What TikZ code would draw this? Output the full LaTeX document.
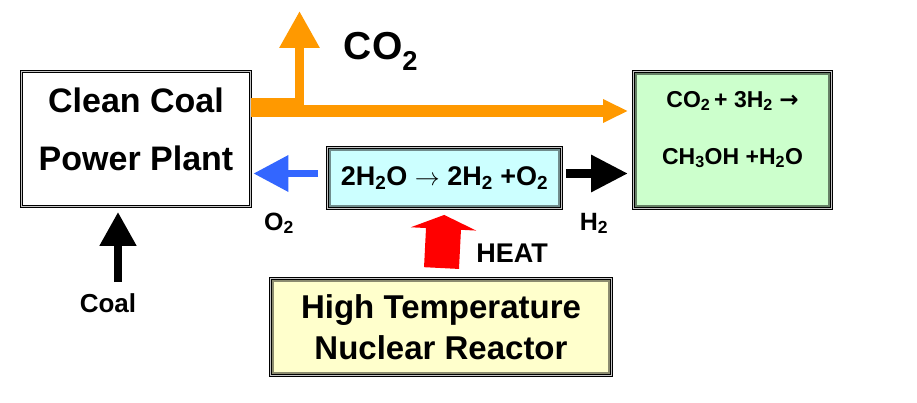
\documentclass[tikz,border=0pt]{standalone}
\usepackage{fontspec}
\setmainfont{Liberation Sans}
\newfontfamily\arrowfont{DejaVu Sans}
\usetikzlibrary{arrows.meta}
\definecolor{gasorange}{HTML}{FF9900}
\definecolor{oxyblue}{HTML}{3366FF}
\definecolor{heatred}{HTML}{FF0000}
\definecolor{splitfill}{HTML}{CCFFFF}
\definecolor{methfill}{HTML}{CCFFCC}
\definecolor{reactfill}{HTML}{FFFFCC}
\newcommand{\chemsub}[1]{\textsubscript{#1}}

\begin{document}
\begin{tikzpicture}[x=1pt, y=-1pt, font=\bfseries,
  box/.style = {draw, line width=0.9pt, double=gray!45, double distance=1.3pt,
    fill=#1, inner sep=0pt, align=center},
  tint/.style = {path picture={\draw[line width=7pt, #1]
    (path picture bounding box.south west) rectangle (path picture bounding box.north east);}},
  flow/.style = {line width=#1, -{Triangle[length=30pt, width=35pt]}}]
\useasboundingbox (0,0) rectangle (917,403);

\node[box=white, minimum width=229pt, minimum height=135pt, text depth=20pt,
  font=\bfseries\fontsize{34}{58}\selectfont] (plant) at (136,139) {Clean Coal\\Power Plant};
\node[box=splitfill, tint=splitfill!55!black, minimum width=234pt, minimum height=61pt,
  font=\bfseries\fontsize{27}{32}\selectfont] (split) at (444.5,178)
  {2H\chemsub{2}O $\rightarrow$ 2H\chemsub{2} +O\chemsub{2}};
\node[box=methfill, tint=methfill!50!black, minimum width=198pt, minimum height=137pt,
  text depth=25pt, font=\bfseries\fontsize{23}{57}\selectfont] (meth) at (732.5,140)
  {CO\chemsub{2}\,+ 3H\chemsub{2} {\arrowfont →}\\CH\chemsub{3}OH +H\chemsub{2}O};
\node[box=reactfill, tint=reactfill!55!black, minimum width=341pt, minimum height=97pt,
  font=\bfseries\fontsize{33}{41}\selectfont] (reactor) at (441,327)
  {High Temperature\\Nuclear Reactor};

% CO2 out of the plant
\coordinate (branch) at (299.5,117);
\coordinate (stack) at (299.5,11);
\draw[gasorange, line width=19pt] (plant.east |- 0,107.5) -- (branch |- 0,107.5);
\draw[gasorange, line width=12pt, -{Triangle[length=25pt, width=22pt]}, shorten >=5pt]
  (branch |- 0,111) -- (meth.west |- 0,111);
\draw[gasorange, line width=9pt, -{Triangle[length=37pt, width=38pt]}] (branch) -- (stack);

% products of the splitting
\draw[oxyblue, line width=7pt, -{Triangle[length=35pt, width=35pt]},
  shorten <=9pt, shorten >=2.5pt] (split.west |- 0,173.5) -- (plant.east |- 0,173.5);
\draw[line width=9pt, -{Triangle[length=37pt, width=35pt]},
  shorten <=4pt, shorten >=5pt] (split.east |- 0,173.5) -- (meth.west |- 0,173.5);
\draw[heatred, line width=35pt, -{Triangle[length=14pt, width=65pt]},
  shorten <=10pt, shorten >=6pt] (reactor.north) -- (split.south);

% coal feed
\coordinate (coalfoot) at (118,282);
\draw[line width=8pt, -{Triangle[length=34pt, width=35pt]}, shorten >=5pt]
  (coalfoot) -- (coalfoot |- plant.south);

\node[font=\bfseries\fontsize{39}{45}\selectfont, anchor=base] (co2) at (381,60) {CO\chemsub{2}};
\node[font=\bfseries\fontsize{25}{30}\selectfont, anchor=base] (o2) at (279,230) {O\chemsub{2}};
\node[font=\bfseries\fontsize{25}{30}\selectfont, anchor=base] (h2) at (594,230) {H\chemsub{2}};
\node[font=\bfseries\fontsize{27}{32}\selectfont, anchor=base] (heat) at (512,262) {HEAT};
\node[font=\bfseries\fontsize{26}{30}\selectfont, anchor=base] (coal) at (108,312) {Coal};
\end{tikzpicture}
\end{document}
